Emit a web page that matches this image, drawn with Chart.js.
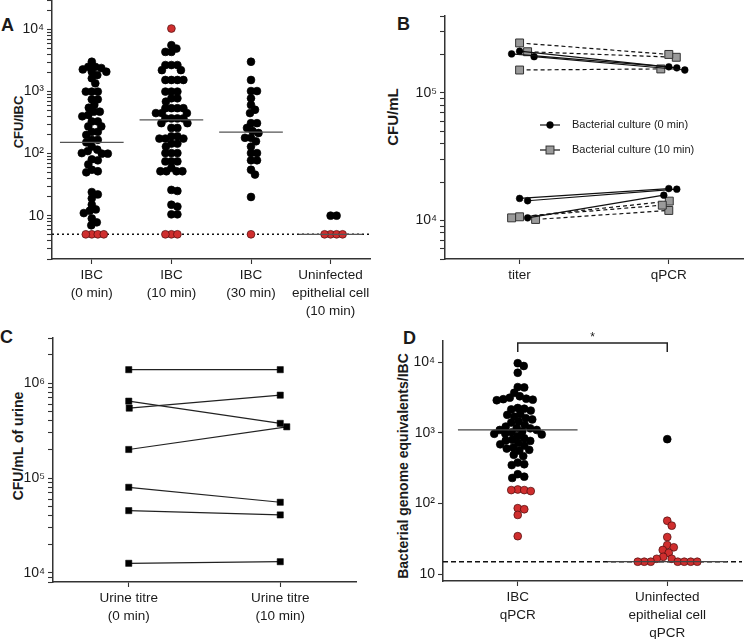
<!DOCTYPE html>
<html>
<head>
<meta charset="utf-8">
<script src="https://cdn.jsdelivr.net/npm/chart.js@4.4.0/dist/chart.umd.min.js"></script>
<style>
body{margin:0;background:#fff;width:750px;height:639px;position:relative;overflow:hidden;font-family:"Liberation Sans",Arial,sans-serif;color:#1a1a1a;}
canvas{position:absolute;}
.pl{position:absolute;font-weight:bold;font-size:18px;line-height:18px;}
.yt{position:absolute;font-weight:bold;white-space:nowrap;transform:translate(-50%,-50%) rotate(-90deg);}
</style>
</head>
<body>
<div class="pl" style="left:1px;top:16px">A</div>
<div class="pl" style="left:397px;top:15px">B</div>
<div class="pl" style="left:0px;top:328px">C</div>
<div class="pl" style="left:403px;top:329px">D</div>

<div class="yt" style="left:18px;top:122px;font-size:13px">CFU/IBC</div>
<div class="yt" style="left:392px;top:117px;font-size:15px">CFU/mL</div>
<div class="yt" style="left:18px;top:446px;font-size:14px">CFU/mL of urine</div>
<div class="yt" style="left:403px;top:466px;font-size:14px">Bacterial genome equivalents/IBC</div>

<canvas id="cA" width="375" height="340" style="left:0;top:-20px"></canvas>
<canvas id="cB" width="375" height="300" style="left:375px;top:0"></canvas>
<canvas id="cC" width="375" height="339" style="left:0;top:300px"></canvas>
<canvas id="cD" width="375" height="339" style="left:375px;top:300px"></canvas>

<script>
// ---- A: CFU per IBC ----
const catsA = [['IBC','(0 min)'], ['IBC','(10 min)'], ['IBC','(30 min)'], ['Uninfected','epithelial cell','(10 min)']];
const ibc0Black = [3030, 2510, 2510, 2400, 2280, 2090, 2090, 1850, 1640, 1360, 1000, 1000, 1000, 750, 750, 610, 550,
  475, 475, 420, 400, 330, 330, 275, 275, 225, 225, 200, 167, 167, 152, 130, 116, 110, 102, 100, 100, 81, 78, 67,
  55, 52, 50, 24, 22, 19, 15, 12.6, 12, 11, 9, 7.8, 7];
const ibc0Red = [5, 5, 5, 5];
const ibc10Black = [5600, 4950, 4370, 4370, 2680, 2680, 2680, 2220, 2220, 1540, 1540, 1540, 1540, 1000, 1000, 1000,
  780, 780, 690, 540, 540, 540, 540, 450, 450, 450, 370, 370, 370, 370, 310, 310, 260, 260, 190, 190, 175, 175, 175,
  145, 145, 130, 102, 102, 102, 75, 75, 75, 59, 52, 52, 52, 52, 26, 25, 15, 14, 10.5, 10.5];
const ibc10Red = [10400, 5, 5, 5];
const ibc30Black = [3030, 1540, 1020, 1020, 780, 610, 510, 450, 310, 310, 260, 232, 215, 180, 180, 158, 130, 102, 102,
  78, 78, 55, 46, 20];
const ibc30Red = [5];
const uninfBlack = [10, 10];
const uninfRed = [5, 5, 5, 5];
const mediansA = [152, 350, 222, 5];
const limitA = 5;

// ---- B: CFU/mL, titer vs qPCR ----
const catsB = ['titer', 'qPCR'];
const legendB = ['Bacterial culture (0 min)', 'Bacterial culture (10 min)'];
const titer0 = [202000, 192000, 212000, 14900, 14300, 10500];
const qpcr0  = [160000, 151000, 157000, 17800, 17600, 15800];
const titer10 = [246000, 210000, 151000, 10700, 10500, 10200];
const qpcr10  = [200000, 190000, 154000, 13200, 14200, 12000];

// ---- C: urine titre ----
const catsC = [['Urine titre','(0 min)'], ['Urine titre','(10 min)']];
const urine0  = [1390000, 647000, 546000, 200000, 79800, 45300, 12600];
const urine10 = [1390000, 377000, 748000, 347000, 55500, 40800, 13100];

// ---- D: genome equivalents per IBC ----
const catsD = [['IBC','qPCR'], ['Uninfected','epithelial cell','qPCR']];
const dIbcBlack = [9700, 8850, 7100, 4450, 4400, 3700, 3300, 3150, 3050, 3000, 2950, 2900, 2250, 2200, 2150, 2070,
  1850, 1800, 1700, 1620, 1550, 1450, 1400, 1300, 1230, 1180, 1160, 1100, 1100, 1050, 1020, 980, 970, 950, 900, 840,
  800, 780, 770, 720, 690, 660, 620, 600, 575, 560, 490, 470, 380, 360, 350, 260, 240, 230];
const dIbcRed = [158, 155, 155, 150, 86, 83, 69, 34.5];
const dUninfBlack = [815];
const dUninfRed = [57, 48.6, 33.5, 25.8, 24, 22, 20, 17.6, 16.5, 16.5, 15, 15, 15, 15, 15, 15, 15];
const mediansD = [1100, 15];
const limitD = 15;
const sigLabel = '*';

const FONT = "'Liberation Sans', Arial, sans-serif";
const INK = '#1a1a1a', AXIS = '#333';
const RED = '#cf2e2e', RED_EDGE = '#4a0d0d';
Chart.defaults.font.family = FONT;
Chart.defaults.color = INK;

const SUP = {'0':'⁰','1':'¹','2':'²','3':'³','4':'⁴','5':'⁵','6':'⁶','7':'⁷','8':'⁸','9':'⁹'};
function decadeLabel(v){
  const e = Math.log10(v);
  if(Math.abs(e - Math.round(e)) > 1e-9) return '';
  const n = Math.round(e);
  if(n === 1) return '10';
  return '10' + String(n).split('').map(ch => SUP[ch]).join('');
}

function logTicks(scale, minor){
  const t = [];
  const lo = Math.floor(Math.log10(scale.min)), hi = Math.ceil(Math.log10(scale.max));
  for(let e=lo; e<=hi; e++){
    for(let m=1; m<10; m++){
      if(!minor && m>1) continue;
      const v = m*Math.pow(10,e);
      if(v >= scale.min*0.999 && v <= scale.max*1.001) t.push({value:v, major:m===1});
    }
  }
  scale.ticks = t;
}

function yAxis(min, max, width, minor){
  return {
    type:'logarithmic', min, max,
    afterFit: s => { s.width = width; },
    afterBuildTicks: s => logTicks(s, minor),
    border:{display:true, color:AXIS, width:1.5},
    grid:{display:true, drawOnChartArea:false, drawTicks:true, tickLength:5, tickColor:AXIS, tickWidth:1.1},
    ticks:{autoSkip:false, padding:3, color:INK, callback: v => decadeLabel(v),
      font: c => (c.tick && c.tick.major) ? {size:14, family:FONT} : {size:1, family:FONT}}
  };
}

function xAxis(labels, height){
  return {
    type:'linear', min:0.5, max:labels.length+0.5,
    afterFit: s => { s.height = height; },
    afterBuildTicks: s => { s.ticks = labels.map((_,i) => ({value:i+1})); },
    border:{display:true, color:AXIS, width:1.5},
    grid:{display:true, drawOnChartArea:false, drawTicks:true, tickLength:5, tickColor:AXIS, tickWidth:1.1},
    ticks:{autoSkip:false, maxRotation:0, padding:3, color:INK,
      font:{size:13.5, family:FONT, lineHeight:1.3},
      callback: v => labels[Math.round(v)-1] || ''}
  };
}

function dots(values, cat, red){
  return {
    data: values.map(v => ({x:cat, y:v, c:cat})),
    pointStyle:'circle', pointRadius:3.9, pointHoverRadius:3.9, borderWidth:0.7,
    backgroundColor: red ? RED : '#000', borderColor: red ? RED_EDGE : '#000',
    order:1
  };
}
function hline(y, x0, x1, color, width, dash, order){
  return {
    data:[{x:x0, y}, {x:x1, y}], fixed:true, showLine:true, pointRadius:0,
    borderColor:color, borderWidth:width, borderDash:dash || [], order
  };
}
function pair(v0, v1, style){
  return Object.assign({data:[{x:1, y:v0, c:1}, {x:2, y:v1, c:2}], showLine:true, order:1}, style);
}

// beeswarm: push overlapping points sideways, using the chart's own scales
function swarm(chart, diam){
  const xs = chart.scales.x, ys = chart.scales.y;
  const unit = xs.getPixelForValue(2) - xs.getPixelForValue(1);
  const groups = {};
  chart.data.datasets.forEach(ds => {
    if(ds.fixed) return;
    ds.data = ds.data.map(p => ({x:p.c, y:p.y, c:p.c}));
    ds.data.forEach(p => { (groups[p.c] = groups[p.c] || []).push(p); });
  });
  Object.values(groups).forEach(list => {
    list.forEach(p => { p.py = ys.getPixelForValue(p.y); });
    list.sort((a,b) => a.py - b.py);
    const placed = [];
    list.forEach(p => {
      let off = 0;
      for(let k=0; k<600; k++){
        const cand = (k%2 ? 1 : -1) * Math.ceil(k/2) * 0.5;
        if(placed.every(q => (q.ox-cand)**2 + (q.py-p.py)**2 >= diam*diam)){ off = cand; break; }
      }
      p.ox = off; placed.push(p);
      p.x = p.c + off/unit;
    });
  });
  chart.update('none');
}

const base = {
  responsive:false, animation:false, devicePixelRatio:1,
  plugins:{legend:{display:false}, tooltip:{enabled:false}}
};

// A
const dsA = [
  dots(ibc0Black, 1), dots(ibc0Red, 1, true),
  dots(ibc10Black, 2), dots(ibc10Red, 2, true),
  dots(ibc30Black, 3), dots(ibc30Red, 3, true),
  dots(uninfBlack, 4), dots(uninfRed, 4, true),
  ...mediansA.map((m,i) => hline(m, i+0.6, i+1.4, '#555', 1.3, null, 0)),
  hline(limitA, 0.5, catsA.length+0.5, '#111', 1.6, [2,3], 3)
];
const chartA = new Chart(document.getElementById('cA'), {
  type:'scatter', data:{datasets:dsA},
  options:Object.assign({}, base, {
    layout:{padding:{top:20, right:0, bottom:0, left:0}},
    scales:{x:xAxis(catsA, 61), y:yAxis(2, 30000, 52, true)}
  })
});
swarm(chartA, 6);

// B
const solid0 = {borderColor:'#111', borderWidth:1.2, pointStyle:'circle', pointRadius:3.4,
  pointBackgroundColor:'#000', pointBorderColor:'#000', pointBorderWidth:0.5};
const dash10 = {borderColor:'#111', borderWidth:1.2, borderDash:[4,3], pointStyle:'rect', pointRadius:5.6,
  pointBackgroundColor:'#9a9a9a', pointBorderColor:'#333', pointBorderWidth:1};
const legendPlugin = {
  id:'legendB',
  afterDraw(chart){
    const ctx = chart.ctx, a = chart.chartArea;
    const styles = [solid0, dash10];
    ctx.save();
    legendB.forEach((txt, i) => {
      const y = a.top + 109 + i*25, x = a.left + 95;
      ctx.strokeStyle = '#111'; ctx.lineWidth = 1.2; ctx.setLineDash([]);
      ctx.beginPath(); ctx.moveTo(x, y); ctx.lineTo(x+20, y); ctx.stroke();
      const st = styles[i];
      ctx.fillStyle = st.pointBackgroundColor; ctx.strokeStyle = st.pointBorderColor; ctx.lineWidth = st.pointBorderWidth;
      if(st.pointStyle === 'circle'){
        ctx.beginPath(); ctx.arc(x+10, y, st.pointRadius, 0, Math.PI*2); ctx.fill(); ctx.stroke();
      } else {
        const h = st.pointRadius*Math.SQRT1_2;
        ctx.fillRect(x+10-h, y-h, 2*h, 2*h); ctx.strokeRect(x+10-h, y-h, 2*h, 2*h);
      }
      ctx.fillStyle = INK; ctx.font = '11px ' + FONT; ctx.textBaseline = 'middle';
      ctx.fillText(txt, x+32, y);
    });
    ctx.restore();
  }
};
const dsB = [
  ...titer0.map((v,i) => pair(v, qpcr0[i], solid0)),
  ...titer10.map((v,i) => pair(v, qpcr10[i], dash10))
];
const chartB = new Chart(document.getElementById('cB'), {
  type:'scatter', data:{datasets:dsB},
  options:Object.assign({}, base, {
    layout:{padding:{top:16, right:3, bottom:0, left:0}},
    scales:{x:xAxis(catsB, 41), y:yAxis(5000, 400000, 70, true)}
  }),
  plugins:[legendPlugin]
});
swarm(chartB, 8);

// C
const sq = {borderColor:'#222', borderWidth:1.2, pointStyle:'rect', pointRadius:4.4,
  pointBackgroundColor:'#000', pointBorderColor:'#000', pointBorderWidth:0.5};
const chartC = new Chart(document.getElementById('cC'), {
  type:'scatter', data:{datasets:urine0.map((v,i) => pair(v, urine10[i], sq))},
  options:Object.assign({}, base, {
    layout:{padding:{top:38, right:19, bottom:0, left:0}},
    scales:{x:xAxis(catsC, 57), y:yAxis(8000, 3000000, 53, true)}
  })
});
swarm(chartC, 7);

// D
const bracketPlugin = {
  id:'bracketD',
  afterDraw(chart){
    const ctx = chart.ctx, a = chart.chartArea, xs = chart.scales.x;
    const x1 = xs.getPixelForValue(1), x2 = xs.getPixelForValue(2), y = a.top + 2;
    ctx.save();
    ctx.strokeStyle = '#222'; ctx.lineWidth = 1.5;
    ctx.beginPath(); ctx.moveTo(x1, y+9); ctx.lineTo(x1, y); ctx.lineTo(x2, y); ctx.lineTo(x2, y+9); ctx.stroke();
    ctx.fillStyle = INK; ctx.font = '12px ' + FONT; ctx.textAlign = 'center'; ctx.textBaseline = 'middle';
    ctx.fillText(sigLabel, (x1+x2)/2, a.top - 3);
    ctx.restore();
  }
};
const dsD = [
  dots(dIbcBlack, 1), dots(dIbcRed, 1, true),
  dots(dUninfBlack, 2), dots(dUninfRed, 2, true),
  ...mediansD.map((m,i) => hline(m, i+0.6, i+1.4, '#444', 1.3, null, 0)),
  hline(limitD, 0.5, catsD.length+0.5, '#111', 1.6, [5,3], 3)
];
const chartD = new Chart(document.getElementById('cD'), {
  type:'scatter', data:{datasets:dsD},
  options:Object.assign({}, base, {
    layout:{padding:{top:41, right:8, bottom:0, left:0}},
    scales:{x:xAxis(catsD, 58), y:yAxis(8, 20000, 68, false)}
  }),
  plugins:[bracketPlugin]
});
swarm(chartD, 6.5);
</script>
</body>
</html>
